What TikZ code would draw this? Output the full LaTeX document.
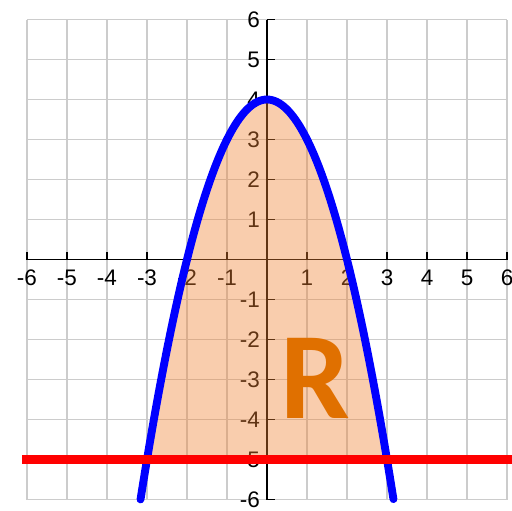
\documentclass[tikz,border=0pt]{standalone}
\usepackage{fontspec}
\setmainfont{Liberation Sans}
\newfontfamily\rfont{Carlito}
\definecolor{gridgray}{RGB}{204,204,204}
\definecolor{shadeorange}{RGB}{240,130,50}
\definecolor{rorange}{RGB}{224,112,0}
\begin{document}
\begin{tikzpicture}[x=1cm,y=1cm,
  axisline/.style={black, line width=1.3pt},
  ticklabel/.style={inner sep=0pt, font=\fontsize{16}{16}\selectfont},
  curve/.style={blue, line width=5.6pt, line cap=round},
  hline/.style={red, line width=6.5pt}]
\useasboundingbox (-6.675,-6.2625) rectangle (6.125,6.4875);
\draw[gridgray, line width=1.3pt] (-6,-6) grid (6,6);
% axes
\draw[axisline] (-6,0) -- (6,0);
\draw[axisline] (0,-6) -- (0,6);
\foreach \i in {-6,...,6} {
  \draw[axisline] (\i,0) -- (\i,0.2);
  \draw[axisline] (0,\i) -- (0.2,\i);
}
\foreach \i in {-6,-5,-4,-3,-2,-1,1,2,3,4,5,6} {
  \node[ticklabel, anchor=base] (xl\i) at (\i,-0.65) {\i};
  \node[ticklabel, anchor=base east] (yl\i) at (-0.17,\i-0.21) {\i};
}
% shaded region
\fill[shadeorange, opacity=0.4] (-3,-5) -- plot[domain=-3:3, samples=120] (\x,{4-\x*\x}) -- cycle;
% curve
\draw[curve] plot[domain=-3.162:3.162, samples=150] (\x,{4-\x*\x});
% line y=-5
\draw[hline] (-6.12,-5) -- (6.2,-5);
% label
\node[text=rorange, inner sep=0pt, font=\rfont\bfseries\fontsize{88}{88}\selectfont] (R) at (1.2,-2.96) {R};
\end{tikzpicture}
\end{document}
